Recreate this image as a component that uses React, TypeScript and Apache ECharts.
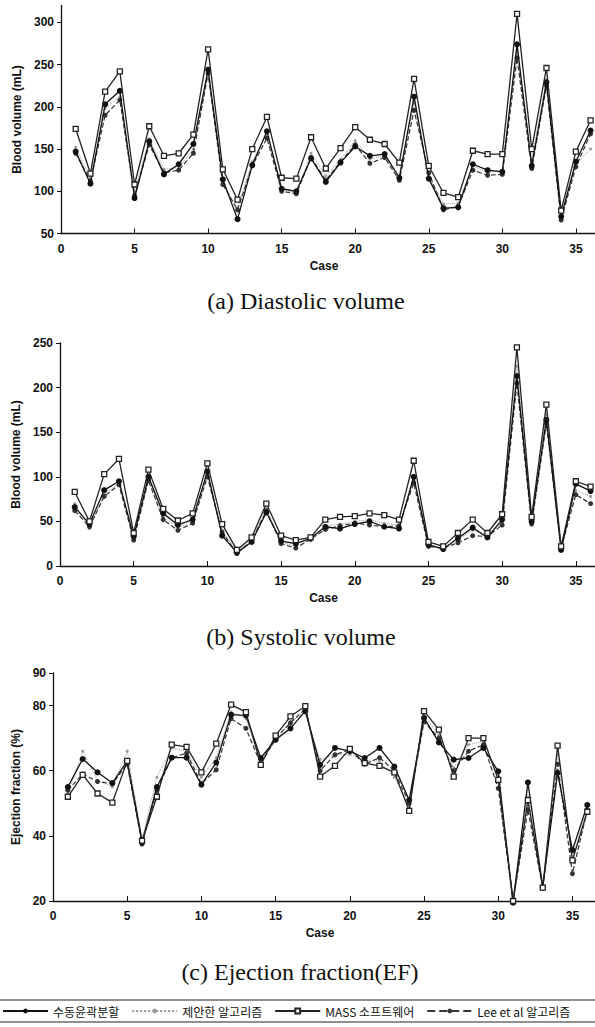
import React, { useEffect, useRef } from 'react';
import * as echarts from 'echarts';

const cases = [1,2,3,4,5,6,7,8,9,10,11,12,13,14,15,16,17,18,19,20,21,22,23,24,25,26,27,28,29,30,31,32,33,34,35,36];
const seriesNames = ['수동윤곽분할', '제안한 알고리즘', 'MASS 소프트웨어', 'Lee et al 알고리즘'];

// (a) Diastolic volume
const diaManual = [147,109,203,219,92,159,120,132,156,244,114,67,131,171,103,100,139,111,134,153,142,144,116,212,115,80,81,132,125,123,274,130,229,70,135,172];
const diaProposed = [152,115,198,212,100,162,126,128,150,238,110,80,135,168,102,98,145,118,138,160,138,142,118,205,118,85,86,130,122,125,265,138,232,72,132,150];
const diaMass = [174,121,218,242,108,177,142,145,167,268,126,90,150,188,116,115,164,127,151,176,161,156,134,233,130,98,93,148,144,144,310,150,246,77,147,184];
const diaLee = [145,112,190,208,95,155,122,125,145,240,108,78,130,163,100,97,140,113,135,155,133,140,113,196,122,78,82,125,119,120,258,127,225,66,129,168];

// (b) Systolic volume
const sysManual = [66,47,85,95,33,100,59,46,52,106,34,15,27,60,28,25,31,44,42,47,50,44,42,100,24,19,31,43,32,52,213,50,164,18,92,84];
const sysProposed = [70,42,80,93,31,98,55,43,50,102,40,16,30,64,27,22,30,45,47,50,52,48,46,97,23,20,30,40,35,48,224,52,170,20,85,78];
const sysMass = [83,50,103,120,37,108,64,51,59,115,47,18,32,70,34,29,32,52,55,56,59,57,52,118,27,22,37,52,37,58,245,55,181,22,95,89];
const sysLee = [62,44,78,91,29,96,52,40,48,100,38,14,28,62,25,20,30,41,45,48,46,44,45,93,22,20,26,34,33,46,205,47,160,20,80,70];

// (c) Ejection fraction (%)
const efManual = [55,63.6,59.5,56.2,63,38,55,64,64,55.7,62.5,77.2,77,63.9,69.5,73,78.3,61.8,67,66,63.9,67,61.3,51,76.2,68.7,63.4,63.9,67,59.8,19.5,56.4,24.3,59.3,35.6,49.5];
const efProposed = [53,66,57,55,66,39,58,67,66,58,64,78,76,63,69,75,78,63.4,65,65,63,63,58,49,77,71,61,68,69,58,21,52,25,65,33,49];
const efMass = [52,58.7,53,50.2,63,38.5,52,68,67.3,59.5,68.3,80.3,78,61.8,70.8,76.7,79.8,58.2,61.5,66.7,62.3,61.5,59.5,47.7,78.3,72.6,58.2,70,70,57.2,20,51,24.1,67.7,32.5,47.4];
const efLee = [54,59,56.7,56,62,37.5,54,64,65.4,56,60.3,76,73,62,70,74.7,79,60,64.9,66.5,62,64,60,50,75,70,60,66,68,54.6,20,48,24,62,28.4,48];

const caseTicks = [0,5,10,15,20,25,30,35];
const diaTicks = [50,100,150,200,250,300];
const sysTicks = [0,50,100,150,200,250];
const efTicks = [20,40,60,80,90];

const styles = [
  { lineStyle: { color: '#111', width: 1.3, type: 'solid' }, symbol: 'circle', symbolSize: 6, itemStyle: { color: '#111' }, z: 4 },
  { lineStyle: { color: '#9a9a9a', width: 1, type: 'dotted' }, symbol: 'circle', symbolSize: 3, itemStyle: { color: '#9a9a9a' }, z: 2 },
  { lineStyle: { color: '#222', width: 1.3, type: 'solid' }, symbol: 'rect', symbolSize: 5, itemStyle: { color: '#fff', borderColor: '#222', borderWidth: 1.3 }, z: 5 },
  { lineStyle: { color: '#333', width: 1.2, type: 'dashed' }, symbol: 'circle', symbolSize: 5, itemStyle: { color: '#333' }, z: 3 },
];

const axisFont = { fontFamily: 'Liberation Sans, Arial, sans-serif', color: '#111' };

function makeSeries(gridIndex: number, arrays: number[][]) {
  return arrays.map((arr, k) => ({
    type: 'line',
    name: seriesNames[k],
    xAxisIndex: gridIndex,
    yAxisIndex: gridIndex,
    data: cases.map((c, i) => [c, arr[i]]),
    ...styles[k],
    clip: false,
  }));
}

function xAxis(gridIndex: number, max: number) {
  return {
    type: 'value', gridIndex, min: 0, max,
    name: 'Case', nameLocation: 'middle', nameGap: 26,
    nameTextStyle: { ...axisFont, fontSize: 12, fontWeight: 'bold', padding: [0, 8, 0, 0] },
    axisLine: { lineStyle: { color: '#111', width: 1.3 } },
    axisTick: { inside: true, length: 5, customValues: caseTicks, lineStyle: { color: '#111' } },
    axisLabel: { customValues: caseTicks, ...axisFont, fontSize: 12, fontWeight: 'bold', margin: 9 },
    splitLine: { show: false },
  };
}

function yAxis(gridIndex: number, min: number, max: number, ticks: number[], name: string, gap: number) {
  return {
    type: 'value', gridIndex, min, max,
    name, nameLocation: 'middle', nameGap: gap,
    nameTextStyle: { ...axisFont, fontSize: 12, fontWeight: 'bold' },
    axisLine: { show: true, lineStyle: { color: '#111', width: 1.3 } },
    axisTick: { show: true, length: 4, customValues: ticks, lineStyle: { color: '#111' } },
    axisLabel: { customValues: ticks, ...axisFont, fontSize: 12, fontWeight: 'bold', margin: 7 },
    splitLine: { show: false },
  };
}

export default function App() {
  const ref = useRef<HTMLDivElement>(null);
  useEffect(() => {
    document.body.style.margin = '0';
    if (!ref.current) return;
    const chart = echarts.init(ref.current, undefined, { renderer: 'svg' });
    const captionFont = { fontFamily: 'Liberation Serif, Times New Roman, serif', fontSize: 24, fill: '#111', textAlign: 'center', textVerticalAlign: 'middle' };
    chart.setOption({
      animation: false,
      backgroundColor: '#fff',
      grid: [
        { left: 61, top: 5.5, width: 534, height: 228 },
        { left: 60, top: 343, width: 535, height: 223 },
        { left: 53, top: 673, width: 542, height: 228 },
      ],
      xAxis: [xAxis(0, 36.3), xAxis(1, 36.3), xAxis(2, 36.52)],
      yAxis: [
        yAxis(0, 50, 320, diaTicks, 'Blood volume (mL)', 38),
        yAxis(1, 0, 250, sysTicks, 'Blood volume (mL)', 37),
        yAxis(2, 20, 90, efTicks, 'Ejection fraction (%)', 31),
      ],
      legend: {
        data: seriesNames,
        left: 2, top: 1005, width: 800,
        padding: 0, itemGap: 12, itemWidth: 45, itemHeight: 6,
        textStyle: { fontFamily: 'Noto Sans CJK KR, sans-serif', fontSize: 12, color: '#111' },
      },
      graphic: [
        { type: 'text', style: { text: '(a) Diastolic volume', x: 306, y: 301, ...captionFont } },
        { type: 'text', style: { text: '(b) Systolic volume', x: 301, y: 637, ...captionFont } },
        { type: 'text', style: { text: '(c) Ejection fraction(EF)', x: 300, y: 972, ...captionFont } },
        { type: 'line', shape: { x1: 0, y1: 1000, x2: 595, y2: 1000 }, style: { stroke: '#222', lineWidth: 1.2 } },
        { type: 'line', shape: { x1: 0, y1: 1022, x2: 595, y2: 1022 }, style: { stroke: '#222', lineWidth: 1.2 } },
      ],
      series: [
        ...makeSeries(0, [diaManual, diaProposed, diaMass, diaLee]),
        ...makeSeries(1, [sysManual, sysProposed, sysMass, sysLee]),
        ...makeSeries(2, [efManual, efProposed, efMass, efLee]),
      ],
    });
    return () => chart.dispose();
  }, []);
  return <div ref={ref} style={{ width: 595, height: 1027 }} />;
}
